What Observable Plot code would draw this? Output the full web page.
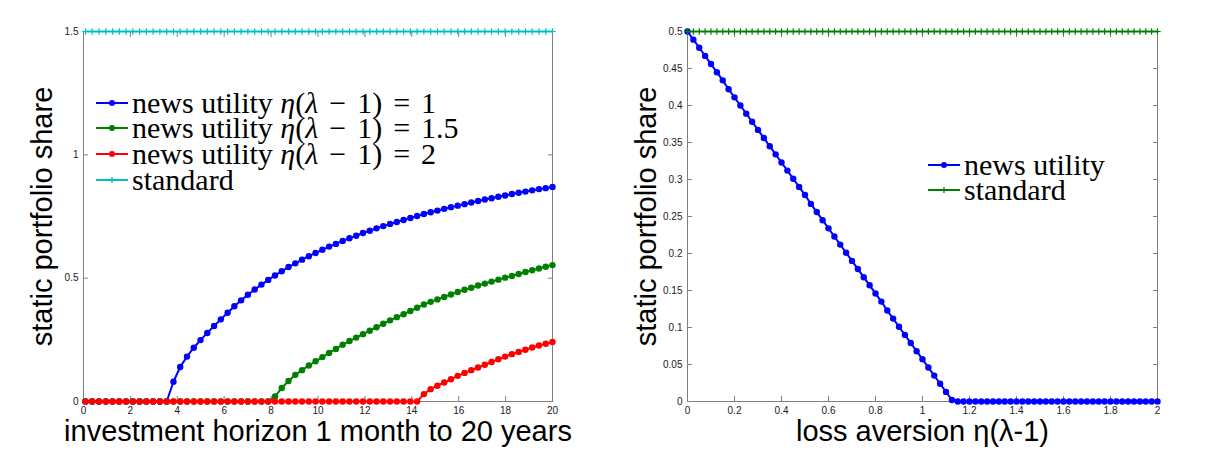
<!DOCTYPE html>
<html><head><meta charset="utf-8">
<script src="https://cdn.jsdelivr.net/npm/d3@7"></script>
<script src="https://cdn.jsdelivr.net/npm/@observablehq/plot@0.6"></script>
<style>
html,body{margin:0;padding:0;background:#fff;}
#fig{position:relative;width:1221px;height:465px;overflow:hidden;background:#fff;}
.panel{position:absolute;top:0;}
.legend-row{position:absolute;height:26px;display:flex;align-items:center;white-space:nowrap;
  font-family:"Liberation Serif","Times New Roman",serif;font-size:30px;color:#000;line-height:26px;}
.legend-row svg{flex:none;margin-right:4px;}
.legend-row .op{margin:0 11px;}
</style>
</head><body><div id="fig"></div>
<script>
// ---------- data: left panel ----------
const horizonYears = [0.083,0.372,0.661,0.949,1.238,1.527,1.815,2.104,2.393,2.681,2.970,3.259,3.547,3.836,4.124,4.413,4.702,4.990,5.279,5.568,5.856,6.145,6.434,6.722,7.011,7.300,7.588,7.877,8.166,8.454,8.743,9.032,9.320,9.609,9.897,10.186,10.475,10.763,11.052,11.341,11.629,11.918,12.207,12.495,12.784,13.073,13.361,13.650,13.938,14.227,14.516,14.804,15.093,15.382,15.670,15.959,16.248,16.536,16.825,17.114,17.402,17.691,17.979,18.268,18.557,18.845,19.134,19.423,19.711,20.000];
const newsUtility1 = [0,0,0,0,0,0,0,0,0,0,0,0,0,0.080,0.140,0.182,0.218,0.249,0.278,0.306,0.333,0.360,0.386,0.410,0.433,0.454,0.474,0.493,0.511,0.528,0.545,0.560,0.575,0.589,0.602,0.615,0.628,0.639,0.651,0.662,0.672,0.683,0.692,0.702,0.711,0.720,0.728,0.736,0.744,0.752,0.760,0.767,0.774,0.781,0.788,0.794,0.800,0.807,0.813,0.819,0.824,0.830,0.835,0.841,0.846,0.851,0.856,0.861,0.865,0.870];
const newsUtility15 = [0,0,0,0,0,0,0,0,0,0,0,0,0,0,0,0,0,0,0,0,0,0,0,0,0,0,0,0,0.020,0.055,0.083,0.108,0.127,0.146,0.163,0.180,0.197,0.213,0.230,0.245,0.259,0.273,0.287,0.301,0.315,0.329,0.342,0.354,0.367,0.380,0.393,0.404,0.414,0.424,0.434,0.444,0.453,0.461,0.470,0.478,0.486,0.494,0.502,0.509,0.517,0.525,0.532,0.539,0.546,0.553];
const newsUtility2 = [0,0,0,0,0,0,0,0,0,0,0,0,0,0,0,0,0,0,0,0,0,0,0,0,0,0,0,0,0,0,0,0,0,0,0,0,0,0,0,0,0,0,0,0,0,0,0,0,0,0,0.030,0.050,0.064,0.077,0.090,0.104,0.116,0.127,0.138,0.149,0.160,0.171,0.182,0.192,0.201,0.210,0.219,0.227,0.234,0.241];
const standardLeft = [1.5,1.5,1.5,1.5,1.5,1.5,1.5,1.5,1.5,1.5,1.5,1.5,1.5,1.5,1.5,1.5,1.5,1.5,1.5,1.5,1.5,1.5,1.5,1.5,1.5,1.5,1.5,1.5,1.5,1.5,1.5,1.5,1.5,1.5,1.5,1.5,1.5,1.5,1.5,1.5,1.5,1.5,1.5,1.5,1.5,1.5,1.5,1.5,1.5,1.5,1.5,1.5,1.5,1.5,1.5,1.5,1.5,1.5,1.5,1.5,1.5,1.5,1.5,1.5,1.5,1.5,1.5,1.5,1.5,1.5];
const leftXTicks = [0,2,4,6,8,10,12,14,16,18,20];
const leftYTicks = [0,0.5,1,1.5];
const leftXTickLabels = ["0","2","4","6","8","10","12","14","16","18","20"];
const leftYTickLabels = ["0","0.5","1","1.5"];

// ---------- data: right panel ----------
const lossAversion = [0,0.025,0.05,0.075,0.1,0.125,0.15,0.175,0.2,0.225,0.25,0.275,0.3,0.325,0.35,0.375,0.4,0.425,0.45,0.475,0.5,0.525,0.55,0.575,0.6,0.625,0.65,0.675,0.7,0.725,0.75,0.775,0.8,0.825,0.85,0.875,0.9,0.925,0.95,0.975,1,1.025,1.05,1.075,1.1,1.125,1.15,1.175,1.2,1.225,1.25,1.275,1.3,1.325,1.35,1.375,1.4,1.425,1.45,1.475,1.5,1.525,1.55,1.575,1.6,1.625,1.65,1.675,1.7,1.725,1.75,1.775,1.8,1.825,1.85,1.875,1.9,1.925,1.95,1.975,2];
const newsUtilityRight = [0.500,0.489,0.478,0.467,0.456,0.445,0.434,0.422,0.411,0.400,0.389,0.378,0.367,0.356,0.345,0.334,0.323,0.312,0.301,0.290,0.279,0.267,0.256,0.245,0.234,0.223,0.212,0.201,0.190,0.179,0.168,0.157,0.146,0.135,0.123,0.112,0.101,0.090,0.079,0.068,0.057,0.046,0.035,0.024,0.013,0.002,0,0,0,0,0,0,0,0,0,0,0,0,0,0,0,0,0,0,0,0,0,0,0,0,0,0,0,0,0,0,0,0,0,0,0];
const standardRight = [0.5,0.5,0.5,0.5,0.5,0.5,0.5,0.5,0.5,0.5,0.5,0.5,0.5,0.5,0.5,0.5,0.5,0.5,0.5,0.5,0.5,0.5,0.5,0.5,0.5,0.5,0.5,0.5,0.5,0.5,0.5,0.5,0.5,0.5,0.5,0.5,0.5,0.5,0.5,0.5,0.5,0.5,0.5,0.5,0.5,0.5,0.5,0.5,0.5,0.5,0.5,0.5,0.5,0.5,0.5,0.5,0.5,0.5,0.5,0.5,0.5,0.5,0.5,0.5,0.5,0.5,0.5,0.5,0.5,0.5,0.5,0.5,0.5,0.5,0.5,0.5,0.5,0.5,0.5,0.5,0.5];
const rightXTicks = [0,0.2,0.4,0.6,0.8,1,1.2,1.4,1.6,1.8,2];
const rightYTicks = [0,0.05,0.1,0.15,0.2,0.25,0.3,0.35,0.4,0.45,0.5];
const rightXTickLabels = ["0","0.2","0.4","0.6","0.8","1","1.2","1.4","1.6","1.8","2"];
const rightYTickLabels = ["0","0.05","0.1","0.15","0.2","0.25","0.3","0.35","0.4","0.45","0.5"];

const leftSeries = [
  {name: "news utility η(λ − 1) = 1", values: newsUtility1, color: "#0000ff", marker: "dot"},
  {name: "news utility η(λ − 1) = 1.5", values: newsUtility15, color: "#008000", marker: "dot"},
  {name: "news utility η(λ − 1) = 2", values: newsUtility2, color: "#ff0000", marker: "dot"},
  {name: "standard", values: standardLeft, color: "#00bfbf", marker: "plus"}
];
const rightSeries = [
  {name: "news utility", values: newsUtilityRight, color: "#0000ff", marker: "dot"},
  {name: "standard", values: standardRight, color: "#008000", marker: "plus"}
];

const AXIS_GRAY = "#808080";

function seriesMarks(xs, series) {
  const marks = [];
  for (const s of series) {
    const rows = xs.map((x, i) => ({x, y: s.values[i]}));
    marks.push(Plot.line(rows, {x: "x", y: "y", stroke: s.color, strokeWidth: 2}));
    if (s.marker === "dot") marks.push(Plot.dot(rows, {x: "x", y: "y", r: 3.2, fill: s.color, stroke: "none"}));
    else marks.push(Plot.dot(rows, {x: "x", y: "y", symbol: "plus", r: 2.2, stroke: s.color, strokeWidth: 1.2}));
  }
  return marks;
}

function makePanel({xs, series, xDomain, yDomain, xTicks, yTicks, xTickLabels, yTickLabels, width, marginLeft, marginRight, xLabel, yLabel}) {
  const xFmt = d => xTickLabels[xTicks.indexOf(d)];
  const yFmt = d => yTickLabels[yTicks.indexOf(d)];
  const blank = () => "";
  return Plot.plot({
    width, height: 465,
    marginLeft, marginRight, marginTop: 31, marginBottom: 64,
    style: {background: "#fff", fontFamily: "'Liberation Sans', Arial, sans-serif"},
    x: {domain: xDomain},
    y: {domain: yDomain},
    marks: [
      // inward ticks on all four sides
      Plot.axisX(xTicks, {anchor: "bottom", tickSize: -5, tickFormat: blank, label: null, color: AXIS_GRAY}),
      Plot.axisX(xTicks, {anchor: "top", tickSize: -5, tickFormat: blank, label: null, color: AXIS_GRAY}),
      Plot.axisY(yTicks, {anchor: "left", tickSize: -5, tickFormat: blank, label: null, color: AXIS_GRAY}),
      Plot.axisY(yTicks, {anchor: "right", tickSize: -5, tickFormat: blank, label: null, color: AXIS_GRAY}),
      // tick labels
      Plot.axisX(xTicks, {anchor: "bottom", tickSize: 0, tickPadding: 5, tickFormat: xFmt, label: null, fontSize: 10, color: "#1a1a1a"}),
      Plot.axisY(yTicks, {anchor: "left", tickSize: 0, tickPadding: 5, tickFormat: yFmt, label: null, fontSize: 10, color: "#1a1a1a"}),
      Plot.frame({stroke: AXIS_GRAY}),
      ...seriesMarks(xs, series),
      // axis titles
      Plot.text([xLabel], {frameAnchor: "bottom", dy: 30, text: d => d, fontSize: 29, fill: "#000", textAnchor: "middle", lineAnchor: "middle"}),
      Plot.text([yLabel], {frameAnchor: "left", dx: -41, rotate: -90, text: d => d, fontSize: 29, fill: "#000", textAnchor: "middle", lineAnchor: "middle"})
    ]
  });
}

const fig = document.getElementById("fig");

const left = makePanel({
  xs: horizonYears, series: leftSeries, xDomain: [0, 20], yDomain: [0, 1.5],
  xTicks: leftXTicks, yTicks: leftYTicks, xTickLabels: leftXTickLabels, yTickLabels: leftYTickLabels,
  width: 610, marginLeft: 83, marginRight: 58,
  xLabel: "investment horizon 1 month to 20 years", yLabel: "static portfolio share"
});
left.classList.add("panel"); left.style.left = "0px";
fig.appendChild(left);

const right = makePanel({
  xs: lossAversion, series: rightSeries, xDomain: [0, 2], yDomain: [0, 0.5],
  xTicks: rightXTicks, yTicks: rightYTicks, xTickLabels: rightXTickLabels, yTickLabels: rightYTickLabels,
  width: 611, marginLeft: 77, marginRight: 64,
  xLabel: "loss aversion η(λ-1)", yLabel: "static portfolio share"
});
right.classList.add("panel"); right.style.left = "610px";
fig.appendChild(right);

// ---------- legends ----------
function legendSymbol(s) {
  const ns = "http://www.w3.org/2000/svg";
  const svg = document.createElementNS(ns, "svg");
  svg.setAttribute("width", 32); svg.setAttribute("height", 12);
  const line = document.createElementNS(ns, "line");
  line.setAttribute("x1", 0); line.setAttribute("x2", 32); line.setAttribute("y1", 6); line.setAttribute("y2", 6);
  line.setAttribute("stroke", s.color); line.setAttribute("stroke-width", 2);
  svg.appendChild(line);
  if (s.marker === "dot") {
    const c = document.createElementNS(ns, "circle");
    c.setAttribute("cx", 16); c.setAttribute("cy", 6); c.setAttribute("r", 3); c.setAttribute("fill", s.color);
    svg.appendChild(c);
  } else {
    const p = document.createElementNS(ns, "path");
    p.setAttribute("d", "M13,6H19M16,3V9"); p.setAttribute("stroke", s.color); p.setAttribute("stroke-width", 1.3);
    svg.appendChild(p);
  }
  return svg;
}
function legendLabel(name) {
  const span = document.createElement("span");
  // math typesetting: italic Greek letters, wider spacing around operators
  span.innerHTML = name
    .replace(/([ηλ])/g, "<i>$1</i>")
    .replace(/ ([−=]) /g, '<span class="op">$1</span>');
  return span;
}
function addLegend(series, x, ys) {
  series.forEach((s, i) => {
    const row = document.createElement("div");
    row.className = "legend-row";
    row.style.left = x + "px";
    row.style.top = (ys[i] - 13) + "px";
    row.appendChild(legendSymbol(s));
    row.appendChild(legendLabel(s.name));
    fig.appendChild(row);
  });
}
addLegend(leftSeries, 96, [103, 128, 154, 180]);
addLegend(rightSeries, 928, [165, 190]);
</script>
</body></html>
